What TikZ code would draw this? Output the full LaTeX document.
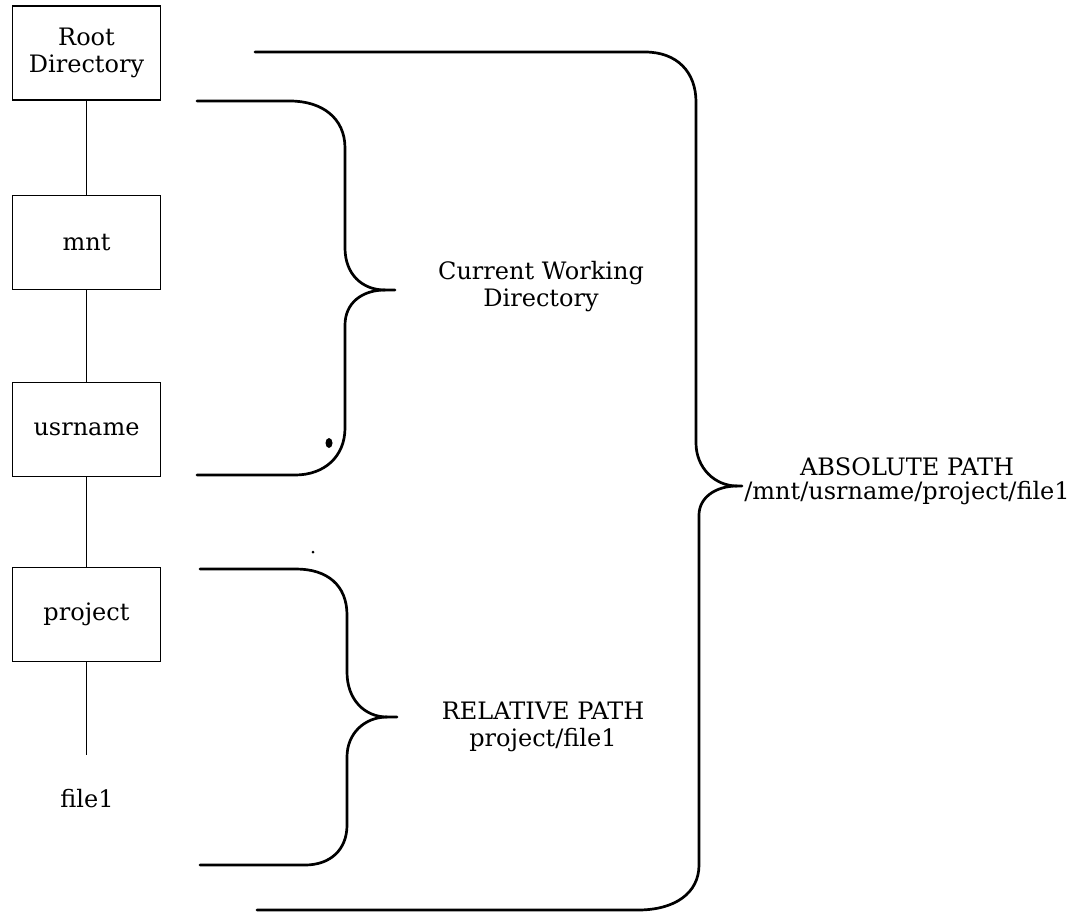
\documentclass[tikz,border=0pt]{standalone}
\usepackage{fontspec}
\setmainfont{DejaVu Serif}
\begin{document}
\begin{tikzpicture}[x=1pt,y=-1pt,
  lbl/.style={font=\fontsize{24}{27}\selectfont, align=center, inner sep=0pt},
  box/.style={lbl, draw, line width=1.9pt, minimum width=148pt, minimum height=94pt},
  link/.style={line width=1.7pt},
  brace/.style={line width=2.7pt, line cap=round, line join=round}]
\useasboundingbox (0,0) rectangle (1083,914);

% tree
\node[box] (root) at (86.5,53) {Root\\Directory};
\node[box] (mnt) at (86.5,242.5) {mnt};
\node[box] (usr) at (86.5,429.5) {usrname};
\node[box] (proj) at (86.5,614.5) {project};
\node[lbl] (file) at (87,799) {file1};
\coordinate (fend) at (86.5,755);

\draw[link] (root.south) -- (mnt.north);
\draw[link] (mnt.south) -- (usr.north);
\draw[link] (usr.south) -- (proj.north);
\draw[link] (proj.south) -- (fend);

% brace: current working directory
\draw[brace] (197,101) -- (290,101) .. controls (322,101) and (345,118) .. (345,148)
  -- (345,248) .. controls (345,274) and (362,290) .. (385,290) -- (395,290);
\draw[brace] (385,290) .. controls (362,290) and (345,303) .. (345,325)
  -- (345,428) .. controls (345,456) and (325,475) .. (295,475) -- (197,475);

% brace: relative path
\draw[brace] (200,569) -- (296,569) .. controls (327,569) and (347,585) .. (347,615)
  -- (347,672) .. controls (347,700) and (365,717) .. (387,717) -- (397,717);
\draw[brace] (387,717) .. controls (365,717) and (347,733) .. (347,757)
  -- (347,825) .. controls (347,850) and (330,865) .. (305,865) -- (200,865);

% brace: absolute path
\draw[brace] (255,52) -- (645,52) .. controls (677,52) and (696,72) .. (696,102)
  -- (696,443) .. controls (696,468) and (715,486) .. (737,486) -- (742,486);
\draw[brace] (737,486) .. controls (715,486) and (699,498) .. (699,515)
  -- (699,865) .. controls (699,893) and (675,910) .. (638,910) -- (257,910);

% specks
\fill (329,443) ellipse (3.5 and 5);
\fill (313,552) circle (1.5);

% labels
\node[lbl] (cwd) at (541,287) {Current Working\\Directory};
\node[lbl] (rel) at (543,727) {RELATIVE PATH\\project/file1};
\node[lbl, font=\fontsize{24}{24}\selectfont] (abs) at (907,481) {ABSOLUTE PATH\\/mnt/usrname/project/file1};
\end{tikzpicture}
\end{document}
